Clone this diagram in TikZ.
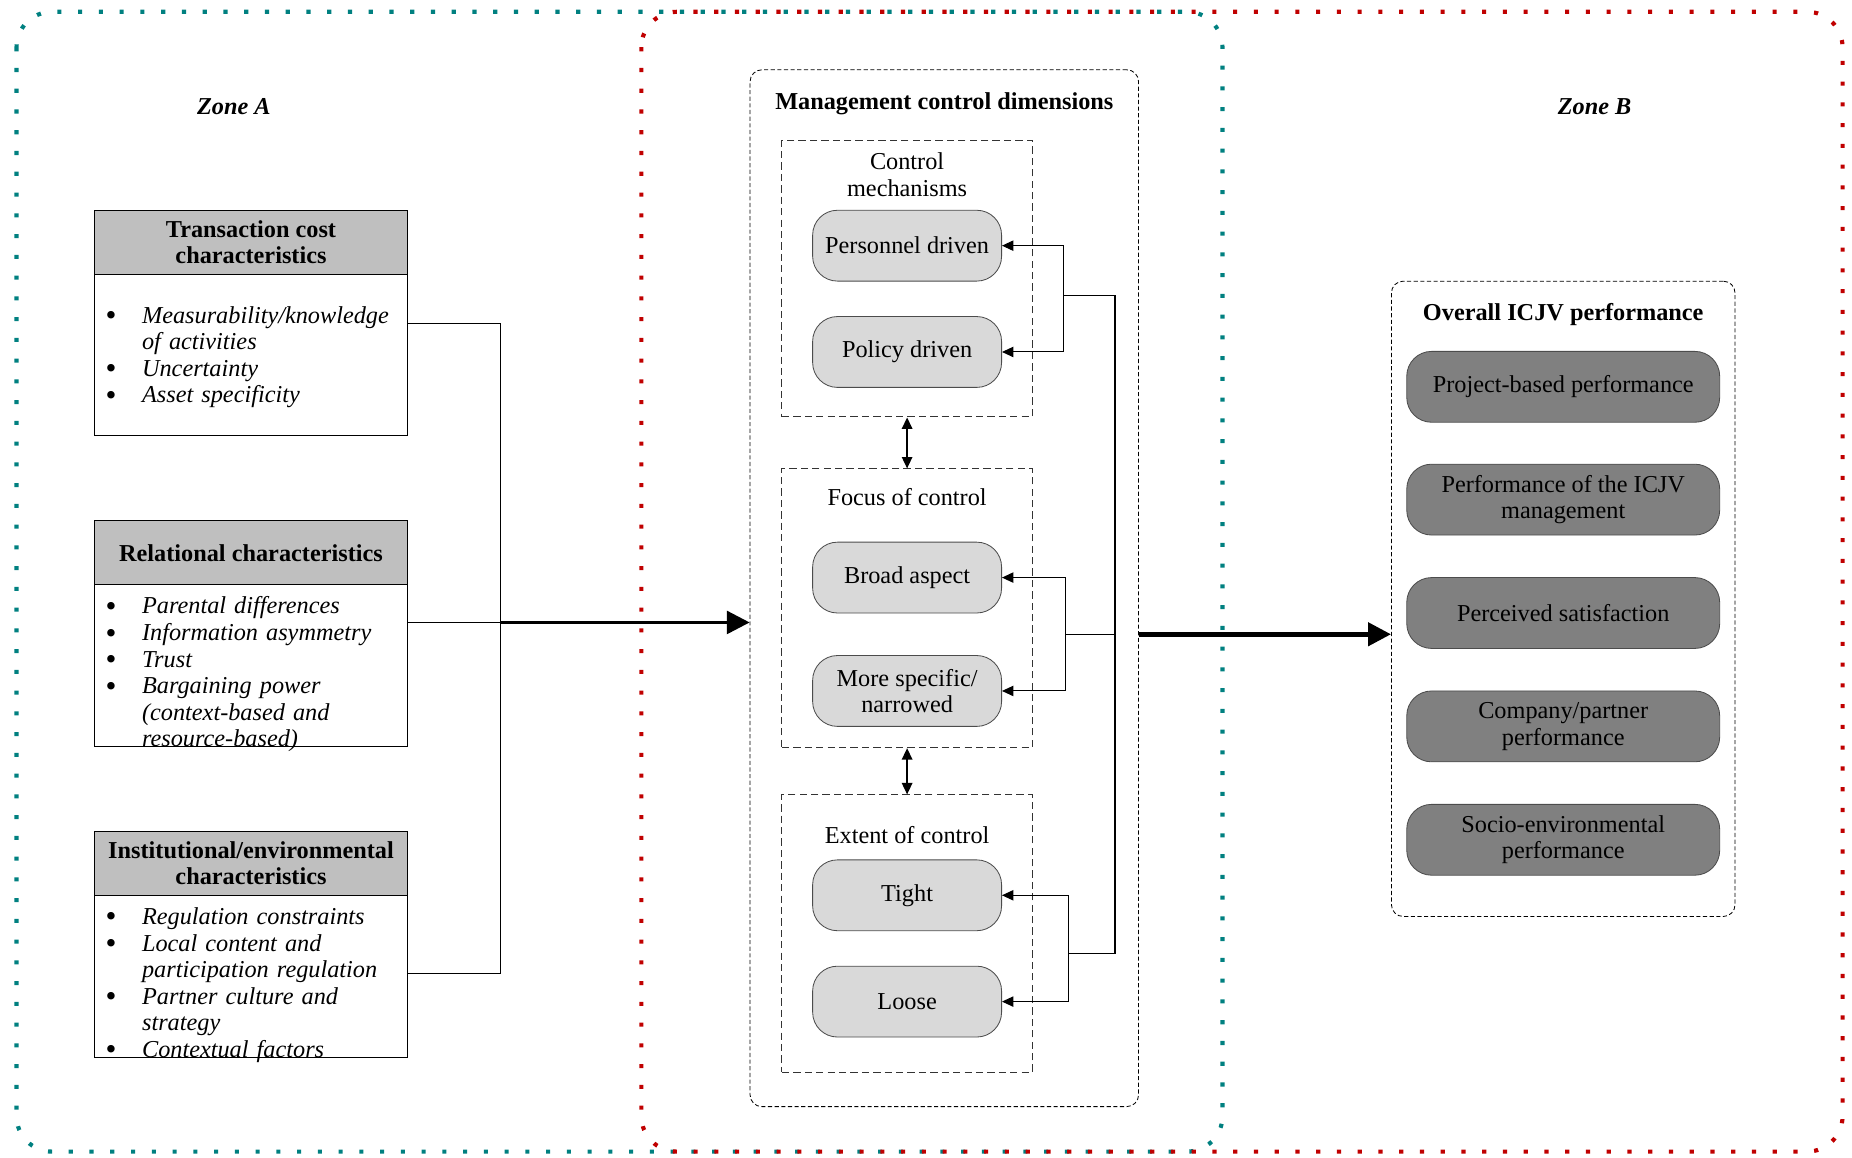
\documentclass[tikz,border=0pt]{standalone}
\usepackage{fontspec}
\setmainfont{Liberation Serif}
\usetikzlibrary{arrows.meta}
\definecolor{zoneteal}{RGB}{0,128,128}
\definecolor{zonered}{RGB}{192,0,0}
\definecolor{hdrgray}{RGB}{191,191,191}
\definecolor{pilllight}{RGB}{217,217,217}
\definecolor{pilldark}{RGB}{128,128,128}
\newcommand{\fs}{\fontsize{11.7}{12.8}\selectfont}
\newcommand{\itm}[1]{\makebox[17.6pt][l]{\raisebox{-1.2pt}[0pt][0pt]{\fontsize{15}{0}\selectfont\textbullet}}\textit{#1}}
\newcommand{\cnt}[1]{\hspace*{17.6pt}\textit{#1}}
\begin{document}
\begin{tikzpicture}[x=0.02cm, y=-0.02cm,
    every node/.style={font=\fs},
    zone/.style={line width=2pt, dash pattern=on 2pt off 8pt, rounded corners=0.6cm},
    hdr/.style={draw, fill=hdrgray, minimum width=5.3cm, minimum height=1.08cm, align=center, font=\fs\bfseries, inner sep=0pt},
    lst/.style={draw, minimum width=5.3cm, minimum height=2.74cm, inner sep=0pt},
    lsttext/.style={anchor=west, text width=4.94cm, inner sep=0pt, align=left},
    grp/.style={draw, dash pattern=on 2pt off 1.2pt, line width=0.4pt, rounded corners=0.2cm},
    sub/.style={draw=black!80, dash pattern=on 3.5pt off 2pt, line width=0.5pt, minimum width=4.24cm},
    pill/.style={draw=black!70, fill=pilllight, rounded corners=0.42cm, minimum width=3.2cm, minimum height=1.2cm, align=center, inner sep=0pt},
    dpill/.style={pill, fill=pilldark, minimum width=5.3cm},
    arr/.style={-{Triangle[length=5.5pt,width=5pt]}, line width=0.5pt},
    dbl/.style={{Triangle[length=5.5pt,width=5pt]}-{Triangle[length=5.5pt,width=5pt]}, line width=0.8pt},
    big/.style={-{Triangle[length=11pt,width=11pt]}, line width=1.6pt}]
  \useasboundingbox (0,0) rectangle (1568,980);
  % zones
  \draw[zone, zoneteal] (14,10) rectangle (1035,975);
  \draw[zone, zonered] (543,10) rectangle (1560,975);
  \draw
    (198,90) node (za) {\textbf{\textit{Zone A}}}
    (1350,90) node (zb) {\textbf{\textit{Zone B}}};
  % zone A boxes
  \draw
    (212.5,205) node[hdr] (h1) {Transaction cost\\characteristics}
    (212.5,300.5) node[lst] (l1) {}
    (89,302.5) node[lsttext] (l1t) {\itm{Measurability/knowledge}\\\cnt{of activities}\\\itm{Uncertainty}\\\itm{Asset specificity}}
    (212.5,468) node[hdr] (h2) {Relational characteristics}
    (212.5,563.5) node[lst] (l2) {}
    (89,571) node[lsttext] (l2t) {\itm{Parental differences}\\\itm{Information asymmetry}\\\itm{Trust}\\\itm{Bargaining power}\\\cnt{(context-based and}\\\cnt{resource-based)}}
    (212.5,731) node[hdr] (h3) {Institutional/environmental\\characteristics}
    (212.5,826.5) node[lst] (l3) {}
    (89,834) node[lsttext] (l3t) {\itm{Regulation constraints}\\\itm{Local content and}\\\cnt{participation regulation}\\\itm{Partner culture and}\\\cnt{strategy}\\\itm{Contextual factors}};
  % management control dimensions
  \draw
    (799.5,498) node[grp, minimum width=6.58cm, minimum height=17.56cm] (mcd) {}
    (799.5,88) node (mcdt) {\textbf{Management control dimensions}}
    (768,236) node[sub, minimum height=4.68cm] (cm) {}
    (768,515) node[sub, minimum height=4.72cm] (fc) {}
    (768,790.5) node[sub, minimum height=4.7cm] (ec) {}
    (768,148) node[align=center] (cmt) {Control\\mechanisms}
    (768,421) node (fct) {Focus of control}
    (768,707) node (ect) {Extent of control}
    (768,208) node[pill] (pers) {Personnel driven}
    (768,298) node[pill] (pol) {Policy driven}
    (768,489) node[pill] (broad) {Broad aspect}
    (768,585) node[pill] (narr) {More specific/\\narrowed}
    (768,758) node[pill] (tight) {Tight}
    (768,848) node[pill] (loose) {Loose};
  % overall performance
  \draw
    (1323.5,507) node[grp, minimum width=5.82cm, minimum height=10.76cm] (perf) {}
    (1323.5,266) node (perft) {\textbf{Overall ICJV performance}}
    (1323.5,327.5) node[dpill] (p1) {Project-based performance}
    (1323.5,423) node[dpill] (p2) {Performance of the ICJV\\management}
    (1323.5,519) node[dpill] (p3) {Perceived satisfaction}
    (1323.5,615) node[dpill] (p4) {Company/partner\\performance}
    (1323.5,711) node[dpill] (p5) {Socio-environmental\\performance};
  \coordinate (t1) at (424,274);
  \coordinate (ja) at (424,527);
  \coordinate (t3) at (424,824);
  \coordinate (b1) at (900,250);
  \coordinate (b2) at (902,537);
  \coordinate (b3) at (905,807);
  \coordinate (k1) at (944,250);
  \coordinate (k2) at (944,537);
  \coordinate (k3) at (944,807);
  \begin{scope}[line width=0.5pt]
    \draw (t1 -| l1.east) -- (t1) -- (t3) -- (t3 -| l3.east);
    \draw (ja -| l2.east) -- (ja);
    \draw[big] (ja) -- (ja -| mcd.west);
    \draw[arr] (b1) |- (pers.east);
    \draw[arr] (b1) |- (pol.east);
    \draw[arr] (b2) |- (broad.east);
    \draw[arr] (b2) |- (narr.east);
    \draw[arr] (b3) |- (tight.east);
    \draw[arr] (b3) |- (loose.east);
    \draw (b1) -- (k1) -- (k3) -- (b3);
    \draw (b2) -- (k2);
    \draw[dbl] (cm.south) -- (fc.north);
    \draw[dbl] (fc.south) -- (ec.north);
    \draw[big, line width=2.2pt] (mcd.east |- k2) -- (k2 -| perf.west);
  \end{scope}
\end{tikzpicture}
\end{document}
